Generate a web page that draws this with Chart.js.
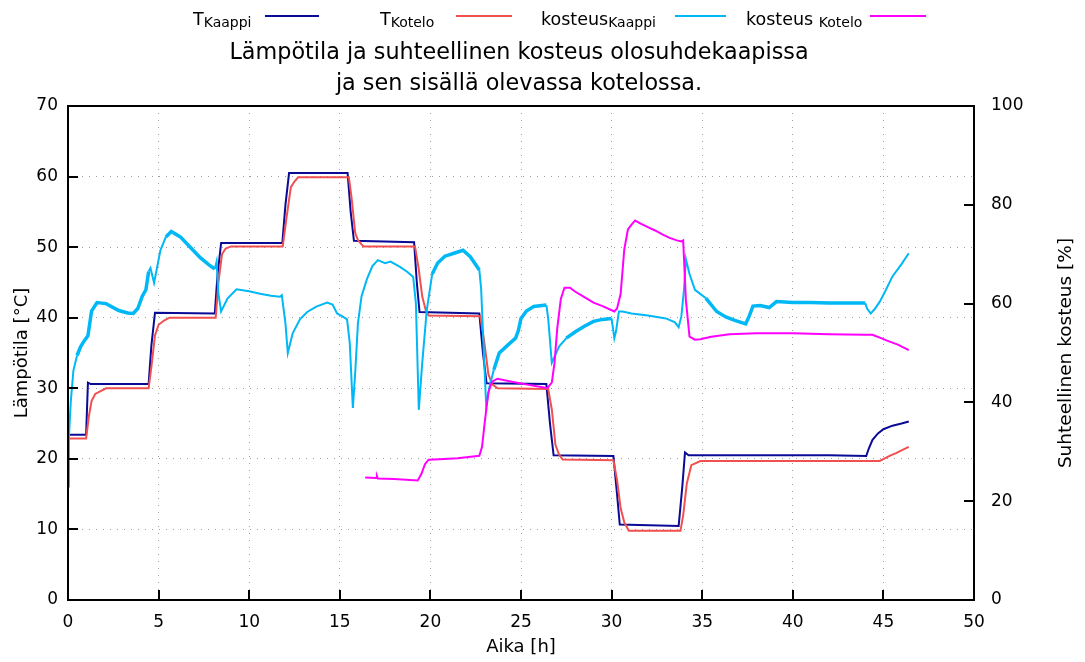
<!DOCTYPE html>
<html>
<head>
<meta charset="utf-8">
<script src="https://cdn.jsdelivr.net/npm/chart.js@4"></script>
<style>
  html, body { margin: 0; padding: 0; background: #fff; }
  #wrap { position: relative; width: 1085px; height: 662px; font-family: "DejaVu Sans", sans-serif; color: #000; }
  #chart { position: absolute; left: 0; top: 0; }
  .title { position: absolute; left: 0; top: 36px; width: 1038px; text-align: center; font-size: 22.3px; line-height: 31px; }
  .lab { position: absolute; top: 11px; font-size: 17.5px; line-height: 17px; white-space: nowrap; }
  .lab span { font-size: 14px; position: relative; top: 2px; }
  .ln { position: absolute; top: 15px; height: 2px; }
</style>
</head>
<body>
<div id="wrap">
  <canvas id="chart" width="1085" height="662"></canvas>
  <div class="title">Lämpötila ja suhteellinen kosteus olosuhdekaapissa<br>ja sen sisällä olevassa kotelossa.</div>
  <div class="lab" style="left:193px">T<span>Kaappi</span></div>
  <div class="ln" style="left:265px;width:54px;background:#0a0a96"></div>
  <div class="lab" style="left:380px">T<span>Kotelo</span></div>
  <div class="ln" style="left:456px;width:56px;background:#f05050"></div>
  <div class="lab" style="left:541px">kosteus<span>Kaappi</span></div>
  <div class="ln" style="left:675px;width:51px;background:#00b8f5"></div>
  <div class="lab" style="left:746px">kosteus <span>Kotelo</span></div>
  <div class="ln" style="left:870px;width:56px;background:#ff00ff"></div>
</div>
<script>
// T Kaappi [°C]
const tKaappiTime = [0, 1.0, 1.1, 1.25, 4.45, 4.6, 4.8, 8.1, 8.25, 8.45,
  11.83, 12.0, 12.2, 15.43, 15.6, 15.78, 19.1, 19.25, 19.4, 22.7,
  22.9, 23.1, 26.4, 26.6, 26.8, 30.1, 30.3, 30.45, 33.7, 33.9,
  34.05, 34.25, 42.0, 44.05, 44.2, 44.4, 44.7, 45.0, 45.5, 46.0, 46.4];
const tKaappi = [23.4, 23.4, 30.8, 30.6, 30.6, 36.0, 40.7, 40.6, 46.0, 50.6,
  50.6, 56.0, 60.5, 60.5, 55.0, 50.9, 50.7, 45.0, 40.8, 40.6,
  35.0, 30.7, 30.6, 25.0, 20.5, 20.4, 15.0, 10.7, 10.5, 16.0,
  20.9, 20.5, 20.5, 20.4, 21.5, 22.7, 23.6, 24.2, 24.7, 25.0, 25.3];

// T Kotelo [°C]
const tKoteloTime = [0, 1.0, 1.15, 1.3, 1.5, 1.8, 2.1, 4.45, 4.6, 4.8,
  5.0, 5.3, 5.6, 8.15, 8.3, 8.5, 8.7, 9.0, 11.85, 12.05,
  12.3, 12.5, 12.7, 15.5, 15.65, 15.85, 16.0, 16.3, 19.15, 19.35,
  19.55, 19.75, 19.9, 22.75, 22.95, 23.2, 23.4, 23.7, 26.5, 26.7,
  26.9, 27.1, 27.3, 30.1, 30.3, 30.5, 30.7, 30.95, 33.8, 33.95,
  34.15, 34.4, 34.9, 44.8, 45.1, 45.4, 45.7, 46.0, 46.4];
const tKotelo = [22.9, 22.9, 26.0, 28.2, 29.2, 29.6, 30.0, 30.0, 33.0, 37.5,
  39.0, 39.6, 40.0, 40.0, 45.0, 49.0, 49.8, 50.1, 50.1, 54.0,
  58.5, 59.3, 59.9, 59.9, 57.0, 52.0, 51.0, 50.1, 50.1, 47.0,
  43.0, 41.0, 40.3, 40.2, 37.0, 32.0, 30.6, 30.0, 29.9, 27.0,
  22.0, 20.6, 19.9, 19.8, 17.0, 13.0, 11.0, 9.8, 9.8, 12.0,
  16.5, 19.1, 19.7, 19.7, 20.1, 20.5, 20.8, 21.2, 21.7];

// kosteus Kaappi [%]
const hKaappiTime = [0, 0.05, 0.15, 0.3, 0.5, 0.7, 0.9, 1.1, 1.3, 1.6,
  2.1, 2.8, 3.3, 3.6, 3.85, 4.1, 4.3, 4.45, 4.55, 4.75,
  4.9, 5.1, 5.4, 5.7, 6.2, 6.8, 7.3, 7.8, 8.1, 8.2,
  8.3, 8.45, 8.8, 9.3, 10.0, 10.6, 11.2, 11.7, 11.8, 12.0,
  12.13, 12.4, 12.8, 13.2, 13.7, 14.3, 14.6, 14.85, 15.1, 15.4,
  15.55, 15.72, 15.85, 16.0, 16.2, 16.5, 16.8, 17.1, 17.5, 17.8,
  18.3, 18.7, 19.05, 19.2, 19.36, 19.55, 19.8, 20.1, 20.4, 20.8,
  21.3, 21.8, 22.2, 22.7, 22.8, 22.95, 23.08, 23.25, 23.5, 23.8,
  24.3, 24.7, 24.85, 25.0, 25.3, 25.7, 26.4, 26.5, 26.7, 27.1,
  27.5, 28.0, 28.5, 29.0, 29.5, 30.0, 30.15, 30.25, 30.4, 30.6,
  31.1, 32.0, 33.0, 33.5, 33.7, 33.85, 34.0, 34.1, 34.3, 34.6,
  35.2, 35.8, 36.3, 36.8, 37.4, 37.6, 37.8, 38.2, 38.7, 39.1,
  40.0, 41.0, 42.0, 43.0, 44.0, 44.1, 44.3, 44.5, 44.8, 45.1,
  45.5, 46.0, 46.4];
const hKaappi = [23, 33, 40, 46.5, 49.5, 51.3, 52.5, 53.5, 58.5, 60.2,
  60, 58.6, 58.1, 58, 59, 61.5, 62.8, 66.5, 67.2, 64.2,
  67, 70.8, 73.5, 74.6, 73.5, 71.2, 69.3, 67.8, 67, 68.5,
  62, 58.4, 61, 62.9, 62.5, 62, 61.6, 61.4, 61.7, 56,
  50, 54, 56.8, 58.3, 59.4, 60.2, 59.8, 58, 57.5, 56.8,
  52, 38.9, 46, 56, 61.5, 65, 67.6, 68.8, 68.2, 68.5,
  67.5, 66.5, 65.4, 60, 38.5, 48, 58.7, 66, 68.2, 69.6,
  70.2, 70.8, 69.5, 66.8, 63, 50, 39.2, 43, 46.6, 50,
  51.7, 53, 54.5, 57, 58.5, 59.4, 59.7, 57, 48, 51.3,
  53, 54.3, 55.4, 56.4, 56.8, 57, 53, 54.5, 58.4, 58.4,
  58, 57.6, 57, 56.2, 55.2, 57.4, 63, 69, 66, 62.8,
  61.1, 58.4, 57.3, 56.6, 55.9, 57.5, 59.5, 59.6, 59.2, 60.4,
  60.2, 60.2, 60.1, 60.1, 60.1, 59, 58, 58.8, 60.4, 62.5,
  65.5, 68, 70.2];
// stretches [h] where the cabinet humidity sensor trace is noisy (drawn thicker)
const hKaappiNoisy = [[0.4, 4.35], [5.4, 8.1], [20.0, 22.7], [23.4, 26.4], [27.2, 30.0], [35.0, 44.0]];

// kosteus Kotelo [%]
const hKoteloTime = [16.4, 17.0, 17.05, 17.1, 18.0, 19.3, 19.5, 19.7, 19.9, 20.5,
  21.5, 22.7, 22.85, 23.0, 23.2, 23.4, 23.7, 24.5, 25.5, 26.45,
  26.7, 26.85, 27.0, 27.2, 27.4, 27.7, 28.0, 28.5, 29.0, 29.5,
  30.15, 30.3, 30.5, 30.7, 30.9, 31.1, 31.3, 31.6, 32.0, 32.4,
  32.8, 33.2, 33.6, 33.85, 33.95, 34.1, 34.3, 34.6, 34.9, 35.5,
  36.5, 38.0, 40.0, 42.0, 44.0, 44.4, 44.8, 45.2, 45.8, 46.4];
const hKotelo = [24.8, 24.7, 25.1, 24.6, 24.5, 24.2, 25.5, 27.5, 28.4, 28.5,
  28.7, 29.2, 31, 36, 42, 44.2, 44.8, 44.2, 43.5, 42.9,
  44, 48, 55, 61, 63.2, 63.2, 62.4, 61.3, 60.2, 59.5,
  58.4, 59, 62, 71, 75, 76, 76.8, 76.2, 75.5, 74.8,
  74, 73.3, 72.8, 72.6, 72.8, 60.7, 53.3, 52.7, 52.8, 53.3,
  53.8, 54, 54, 53.8, 53.7, 53.7, 53.1, 52.5, 51.7, 50.6];

const pts = (ts, vs) => ts.map((t, i) => ({ x: t, y: vs[i] }));
const inNoisy = x => hKaappiNoisy.some(([a, b]) => x >= a && x < b);

Chart.defaults.font.family = '"DejaVu Sans", sans-serif';
Chart.defaults.color = '#000';

// gnuplot-like frame: solid border + inward tick marks + right axis title
const frame = {
  id: 'frame',
  afterDraw(chart) {
    const { ctx, chartArea: a, scales } = chart;
    ctx.save();
    ctx.strokeStyle = '#000';
    ctx.lineWidth = 2;
    ctx.beginPath();
    scales.x.ticks.forEach(t => {
      const px = Math.round(scales.x.getPixelForValue(t.value));
      ctx.moveTo(px, a.bottom); ctx.lineTo(px, a.bottom - 10);
    });
    scales.y.ticks.forEach(t => {
      const py = Math.round(scales.y.getPixelForValue(t.value));
      ctx.moveTo(a.left, py); ctx.lineTo(a.left + 10, py);
    });
    scales.y2.ticks.forEach(t => {
      const py = Math.round(scales.y2.getPixelForValue(t.value));
      ctx.moveTo(a.right, py); ctx.lineTo(a.right - 10, py);
    });
    ctx.stroke();
    ctx.strokeRect(a.left, a.top, a.right - a.left, a.bottom - a.top);

    ctx.translate(1066, (a.top + a.bottom) / 2);
    ctx.rotate(-Math.PI / 2);
    ctx.fillStyle = '#000';
    ctx.font = '18.5px "DejaVu Sans"';
    ctx.textAlign = 'center';
    ctx.textBaseline = 'middle';
    ctx.fillText('Suhteellinen kosteus [%]', 0, 0);
    ctx.restore();
  }
};

const gridStyle = { color: '#a0a0a0', lineWidth: 1, drawTicks: false };
const dots = { display: false, dash: [1, 6] };

new Chart(document.getElementById('chart'), {
  type: 'line',
  data: {
    datasets: [
      { label: 'T Kaappi', data: pts(tKaappiTime, tKaappi), yAxisID: 'y', borderColor: '#0a0a96', borderWidth: 2, order: 4 },
      { label: 'T Kotelo', data: pts(tKoteloTime, tKotelo), yAxisID: 'y', borderColor: '#f05050', borderWidth: 2, order: 3 },
      { label: 'kosteus Kaappi', data: pts(hKaappiTime, hKaappi), yAxisID: 'y2', borderColor: '#00b8f5', borderWidth: 2, order: 2,
        segment: { borderWidth: c => inNoisy(c.p0.parsed.x) ? 3.5 : 2 } },
      { label: 'kosteus Kotelo', data: pts(hKoteloTime, hKotelo), yAxisID: 'y2', borderColor: '#ff00ff', borderWidth: 2, order: 1 },
    ],
  },
  options: {
    responsive: false,
    animation: false,
    layout: { padding: { top: 106, left: 0, right: 0, bottom: 0 } },
    elements: { point: { radius: 0 }, line: { tension: 0, fill: false } },
    plugins: { legend: { display: false }, tooltip: { enabled: false }, title: { display: false } },
    scales: {
      x: {
        type: 'linear', min: 0, max: 50,
        ticks: { stepSize: 5, padding: 12, font: { size: 17 }, maxRotation: 0 },
        grid: gridStyle, border: dots,
        title: { display: true, text: 'Aika [h]', font: { size: 18 }, padding: { top: 0, bottom: 4 } },
        afterFit(s) { s.height = 62; },
      },
      y: {
        position: 'left', min: 0, max: 70,
        ticks: { stepSize: 10, padding: 10, font: { size: 17 } },
        grid: gridStyle, border: dots,
        title: { display: true, text: 'Lämpötila [°C]', font: { size: 18 }, padding: { top: 12, bottom: 0 } },
        afterFit(s) { s.width = 68; },
      },
      y2: {
        position: 'right', min: 0, max: 100,
        ticks: { stepSize: 20, padding: 17, font: { size: 17 } },
        grid: { display: false, drawTicks: false }, border: { display: false },
        afterFit(s) { s.width = 111; },
      },
    },
  },
  plugins: [frame],
});
</script>
</body>
</html>
